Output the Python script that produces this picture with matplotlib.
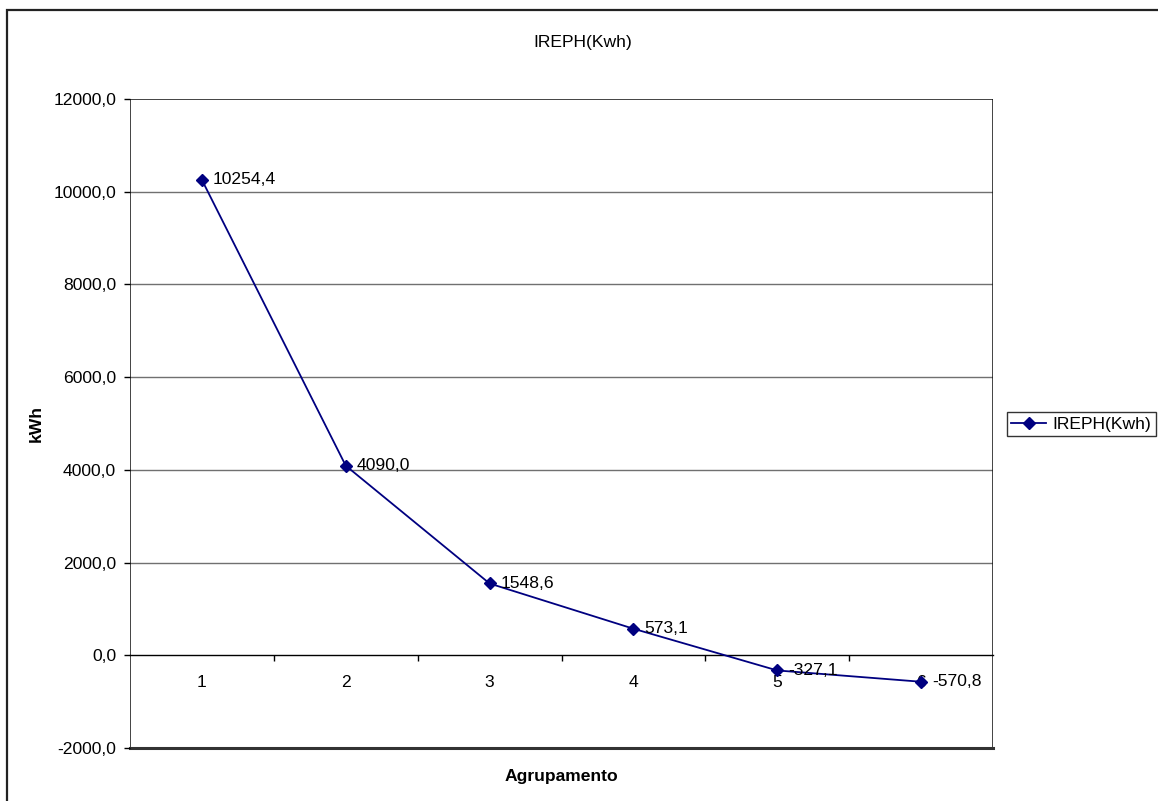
import matplotlib.pyplot as plt
from matplotlib.patches import Rectangle
from matplotlib.ticker import FixedLocator, FuncFormatter

# dados
grupos = [1, 2, 3, 4, 5, 6]
ireph = [10254.4, 4090.0, 1548.6, 573.1, -327.1, -570.8]
titulo = "IREPH(Kwh)"
y_ticks = [-2000, 0, 2000, 4000, 6000, 8000, 10000, 12000]

W, H = 1158, 801
FS = 12.6
NAVY = "#000080"

plt.rcParams["font.family"] = ["Liberation Sans", "DejaVu Sans"]

fig = plt.figure(figsize=(W / 100, H / 100), dpi=100)
fig.patch.set_facecolor("white")

# moldura externa do gráfico
fig.patches.append(Rectangle((7 / W, -0.1), 2, 1.1 - 10 / H, transform=fig.transFigure,
                             fill=False, edgecolor="#222222", lw=1.6, clip_on=False))

# área de plotagem
x0, x1, y0, y1 = 130, 993, 99, 748
ax = fig.add_axes([x0 / W, 1 - y1 / H, (x1 - x0) / W, (y1 - y0) / H])
ax.set_xlim(0.5, 6.5)
ax.set_ylim(-2000, 12000)

for s in ["top", "right", "left"]:
    ax.spines[s].set_visible(False)
ax.spines["bottom"].set_position(("data", 0))
ax.spines["bottom"].set_color("black")
ax.spines["bottom"].set_linewidth(1.0)

ax.add_patch(Rectangle((0, 0), 1, 1, transform=ax.transAxes, fill=False,
                       edgecolor="#111111", lw=1.1, zorder=1))
ax.plot([0, 1], [0, 0], transform=ax.transAxes, color="#333333", lw=2.2,
        clip_on=False, zorder=1)

# grade horizontal
for v in y_ticks[2:-1]:
    ax.axhline(v, color="#707070", lw=1.0, zorder=0)

ax.yaxis.set_major_locator(FixedLocator(y_ticks))
ax.yaxis.set_major_formatter(FuncFormatter(lambda v, p: f"{v:.1f}".replace(".", ",")))
ax.tick_params(axis="y", direction="out", length=4, width=1, pad=6, labelsize=FS)

ax.set_xticks(grupos)
ax.set_xticklabels([str(g) for g in grupos])
ax.set_xticks([g + 0.5 for g in grupos[:-1]], minor=True)
ax.tick_params(axis="x", which="major", length=0, pad=14.5, labelsize=FS)
ax.tick_params(axis="x", which="minor", direction="out", length=4, width=1)

ax.plot(grupos, ireph, color=NAVY, lw=1.3, marker="D", markersize=6.5,
        markerfacecolor=NAVY, markeredgecolor=NAVY, label=titulo, zorder=3, clip_on=False)

for g, v in zip(grupos, ireph):
    ax.annotate(f"{v:.1f}".replace(".", ","), (g, v), xytext=(8, 0),
                textcoords="offset points", va="center", ha="left", fontsize=FS, zorder=4)

ax.set_ylabel("kWh", fontsize=FS, fontweight="bold")
ax.yaxis.set_label_coords((44 - x0) / (x1 - x0), 0.5)
ax.set_xlabel("Agrupamento", fontsize=FS, fontweight="bold")
ax.xaxis.set_label_coords(0.5, -(769 - y1) / (y1 - y0))

fig.text(583 / W, 1 - 42 / H, titulo, ha="center", va="center", fontsize=FS)

leg = ax.legend(loc="center left", bbox_to_anchor=(1007 / W, 1 - 424.5 / H),
                bbox_transform=fig.transFigure, borderaxespad=0, fontsize=FS,
                frameon=True, fancybox=False, edgecolor="black", handlelength=2.0,
                handletextpad=0.35, borderpad=0.25, markerscale=1.0)
leg.get_frame().set_linewidth(1.0)

fig.savefig("out.png", dpi=100, facecolor="white")
